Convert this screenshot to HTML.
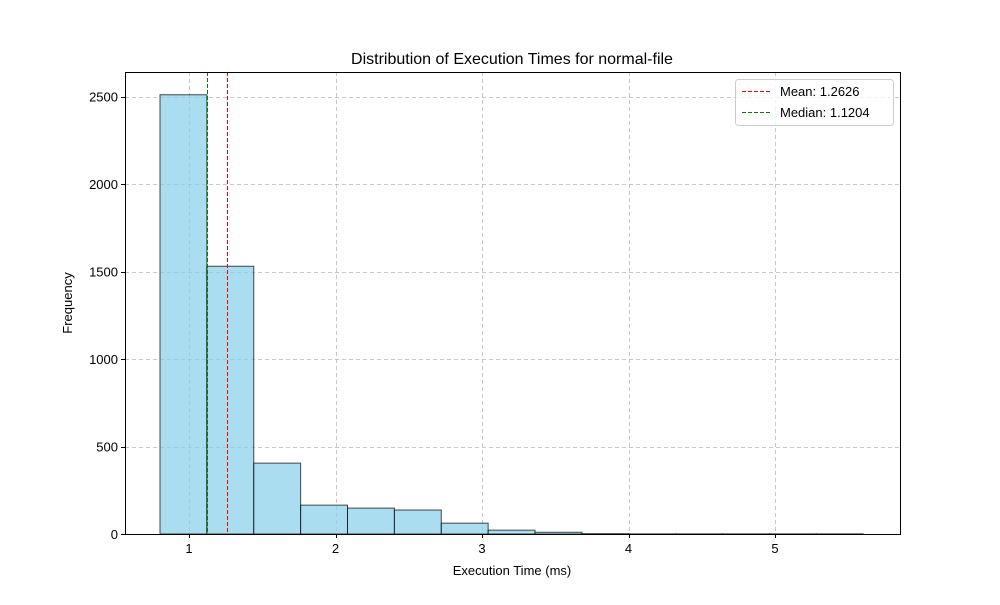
<!DOCTYPE html>
<html><head><meta charset="utf-8"><style>body{margin:0;background:#fff}svg{font-family:"Liberation Sans","DejaVu Sans",sans-serif}</style></head>
<body>
<svg id="chart" width="1000" height="600" xmlns="http://www.w3.org/2000/svg">
<rect width="1000" height="600" fill="#fff"/>
<text x="512" y="64" font-size="16" text-anchor="middle">Distribution of Execution Times for normal-file</text>
<g id="grid"></g><g id="bars"></g><g id="lines"></g><g id="axes"></g>
<text x="512" y="575" font-size="13" text-anchor="middle">Execution Time (ms)</text>
<text x="72" y="303" font-size="13" text-anchor="middle" transform="rotate(-90 72 303)">Frequency</text>
<g>
<rect x="735.5" y="79.5" width="158" height="46" rx="3" fill="#fff" fill-opacity="0.8" stroke="#ccc"/>
<line x1="742" y1="91.5" x2="770" y2="91.5" stroke="red" stroke-dasharray="4,2"/>
<text x="780" y="96" font-size="13">Mean: 1.2626</text>
<line x1="742" y1="112.5" x2="770" y2="112.5" stroke="green" stroke-dasharray="4,2"/>
<text x="780" y="117" font-size="13">Median: 1.1204</text>
</g>
</svg>
<script>
const binStart = 0.802;
const binWidth = 0.32;
const counts = [2510, 1530, 405, 165, 148, 137, 62, 22, 10, 2, 1, 1, 1, 1, 1];
const xTicks = [1, 2, 3, 4, 5];
const yTicks = [0, 500, 1000, 1500, 2000, 2500];
const meanVal = 1.2626;
const medianVal = 1.1204;
const L=125,R=900,T=72,B=534;
const xs=v=>189+(v-1)*146.5;
const ys=v=>B-v*0.175;
const px=v=>Math.round(v)+0.5;
const NS="http://www.w3.org/2000/svg";
function mk(t,a,p){const e=document.createElementNS(NS,t);for(const k in a)e.setAttribute(k,a[k]);document.getElementById(p).appendChild(e);return e;}
xTicks.forEach(t=>{
 const g=mk('line',{x1:px(xs(t)),x2:px(xs(t)),y1:T,y2:B,stroke:'#b0b0b0','stroke-opacity':0.7,'stroke-dasharray':'4,3'},'grid');
 
 
 mk('line',{x1:px(xs(t)),x2:px(xs(t)),y1:B,y2:B+4,stroke:'#000'},'axes');
 const l=mk('text',{x:xs(t),y:B+19,'font-size':13,'text-anchor':'middle'},'axes');l.textContent=t;
 
 
});
yTicks.forEach(t=>{
 const g=mk('line',{x1:L,x2:R,y1:px(ys(t)),y2:px(ys(t)),stroke:'#b0b0b0','stroke-opacity':0.7,'stroke-dasharray':'4,3'},'grid');
 
 
 mk('line',{x1:L-4,x2:L,y1:px(ys(t)),y2:px(ys(t)),stroke:'#000'},'axes');
 const l=mk('text',{x:L-7,y:ys(t)+5,'font-size':13,'text-anchor':'end'},'axes');l.textContent=t;
 
 
});
counts.forEach((c,i)=>{
 const x0=xs(binStart+i*binWidth),x1=xs(binStart+(i+1)*binWidth);
 const r=mk('rect',{x:x0,y:ys(c),width:x1-x0,height:B-ys(c),fill:'#87ceeb','fill-opacity':0.7,stroke:'#000','stroke-opacity':0.7,'stroke-width':1},'bars');
 
 
});
const m=mk('line',{x1:px(xs(meanVal)),x2:px(xs(meanVal)),y1:T,y2:B,stroke:'#ff0000','stroke-dasharray':'4,2'},'lines');


const md=mk('line',{x1:px(xs(medianVal)),x2:px(xs(medianVal)),y1:T,y2:B,stroke:'#008000','stroke-dasharray':'4,2'},'lines');


const f=mk('rect',{x:L+0.5,y:T+0.5,width:R-L,height:B-T,fill:'none',stroke:'#000'},'axes');


</script>
</body></html>
